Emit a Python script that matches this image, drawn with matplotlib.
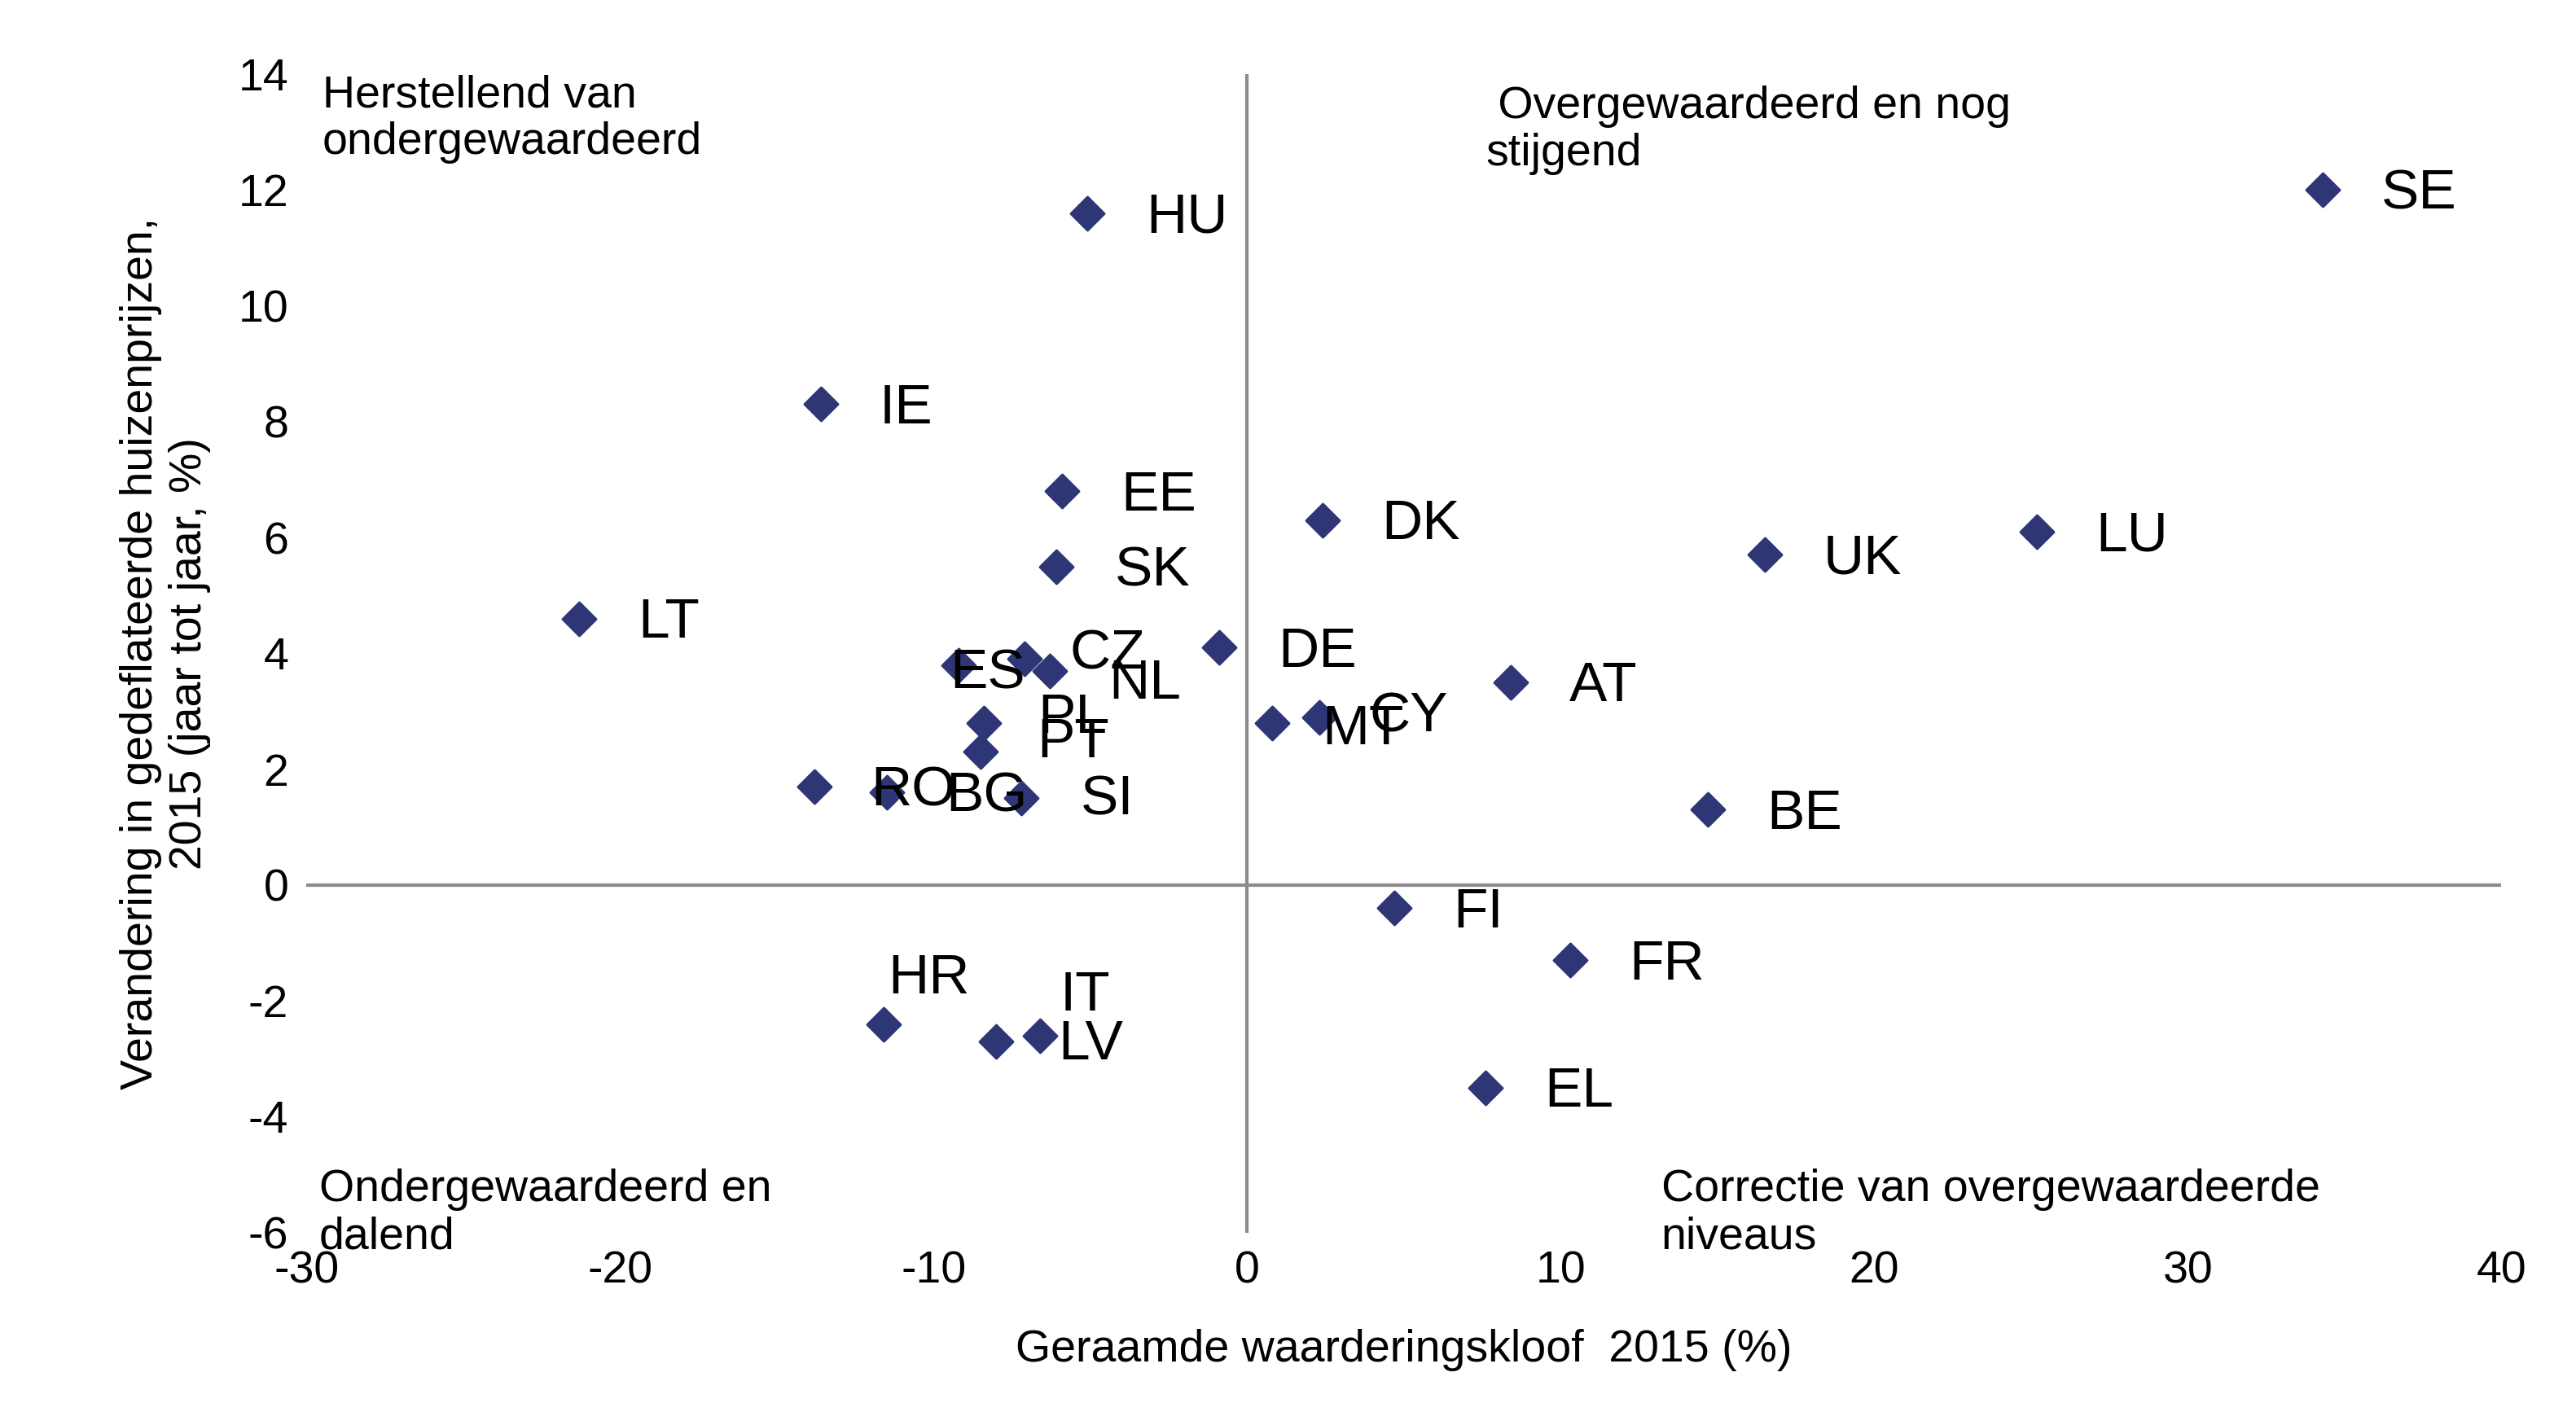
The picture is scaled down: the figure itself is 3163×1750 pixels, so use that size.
import matplotlib
matplotlib.use("Agg")
import matplotlib.pyplot as plt

plt.rcParams['font.family'] = ['Liberation Sans', 'DejaVu Sans']
plt.rcParams['axes.unicode_minus'] = False

countries = ['HU', 'SE', 'IE', 'EE', 'DK', 'SK', 'UK', 'LU', 'LT', 'DE', 'CZ', 'ES',
             'NL', 'AT', 'MT', 'CY', 'PL', 'PT', 'RO', 'BG', 'SI', 'BE', 'FI', 'FR',
             'EL', 'HR', 'IT', 'LV']
gap = [-5.1, 34.3, -13.6, -5.9, 2.4, -6.1, 16.5, 25.2, -21.3, -0.9, -7.1, -9.2,
       -6.3, 8.4, 0.8, 2.3, -8.4, -8.5, -13.8, -11.5, -7.2, 14.7, 4.7, 10.3,
       7.6, -11.6, -8.0, -6.6]
price = [11.6, 12.0, 8.3, 6.8, 6.3, 5.5, 5.7, 6.1, 4.6, 4.1, 3.9, 3.8,
         3.7, 3.5, 2.8, 2.9, 2.8, 2.3, 1.7, 1.6, 1.5, 1.3, -0.4, -1.3,
         -3.5, -2.4, -2.7, -2.6]

# label offsets in points (default: right of marker)
default_off = (26, -2)
offsets = {'CZ': (20, 2), 'ES': (-4, -4), 'NL': (26, -6), 'MT': (22, -3),
           'CY': (22, 0), 'PL': (24, 2), 'PT': (25, 4), 'RO': (25, -2),
           'BG': (26, -2), 'SI': (26, -1), 'HR': (2, 20), 'IT': (28, 20),
           'LV': (8, -4)}

fig = plt.figure(figsize=(15.815, 8.75), dpi=200)
ax = fig.add_axes([0.119, 0.135, 0.852, 0.813])

ax.scatter(gap, price, marker='D', s=110, color='#2E3675', zorder=3)
for c, x, y in zip(countries, gap, price):
    ax.annotate(c, (x, y), xytext=offsets.get(c, default_off), textcoords='offset points',
                fontsize=25, va='center', ha='left', zorder=4)

ax.axhline(0, color='#8C8C8C', lw=1.5, zorder=1)
ax.axvline(0, color='#8C8C8C', lw=1.5, zorder=1)

ax.set_xlim(-30, 40)
ax.set_ylim(-6, 14)
ax.set_xticks(range(-30, 41, 10))
ax.set_yticks(range(-6, 15, 2))
for s in ax.spines.values():
    s.set_visible(False)
ax.tick_params(length=0, labelsize=20, pad=8)

qfont = dict(fontsize=20, va='top', ha='left', linespacing=1.15)
ax.text(-29.5, 14.0, 'Herstellend van\nondergewaardeerd', **qfont)
ax.text(7.6, 13.8, ' Overgewaardeerd en nog\nstijgend', **qfont)
ax.text(-29.6, -4.9, 'Ondergewaardeerd en\ndalend', **qfont)
ax.text(13.2, -4.9, 'Correctie van overgewaardeerde\nniveaus', **qfont)

ax.set_xlabel('Geraamde waarderingskloof  2015 (%)', fontsize=20, labelpad=16)
ax.set_ylabel('Verandering in gedeflateerde huizenprijzen,\n2015 (jaar tot jaar, %)',
              fontsize=20, labelpad=12)

fig.savefig('out.png', dpi=200)
